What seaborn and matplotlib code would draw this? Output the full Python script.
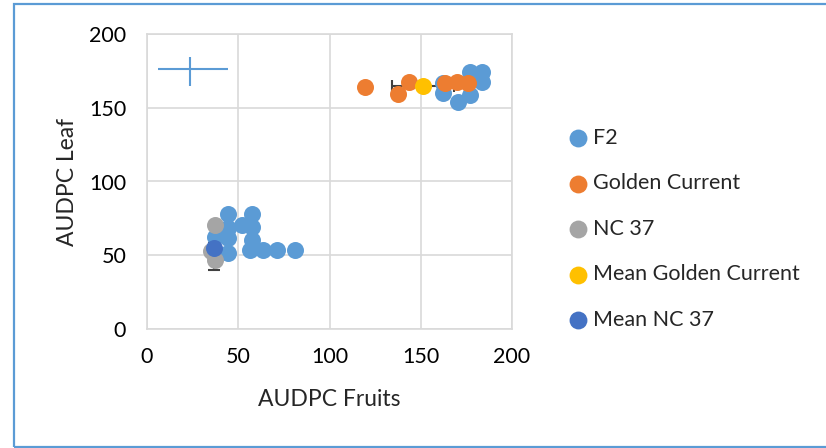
import numpy as np
import pandas as pd
import matplotlib
matplotlib.use("Agg")
import matplotlib.pyplot as plt
from matplotlib.patches import Rectangle
import seaborn as sns

# --- data -------------------------------------------------------------
f2_fruits = [44.6, 57.4, 51.9, 57.4, 44.6, 44.6, 37.3, 57.4, 44.6, 56.4, 63.7, 71.0, 81.1,
             162.4, 162.4, 170.6, 177.0, 177.0, 183.4, 183.4]
f2_leaf = [77.8, 77.8, 70.5, 69.4, 68.3, 62.0, 62.6, 60.3, 51.3, 53.6, 53.6, 53.6, 53.6,
           166.6, 159.8, 154.1, 158.6, 174.4, 174.4, 167.6]

gc_fruits = [119.5, 137.3, 143.7, 163.3, 169.7, 176.0]
gc_leaf = [164.3, 159.1, 167.3, 166.6, 167.7, 167.0]

nc_fruits = [37.3, 35.0, 37.3]
nc_leaf = [70.5, 53.0, 46.8]

mean_gc = (151.4, 165.0)
mean_gc_err = (17.0, 2.0)      # (x, y)
mean_nc = (36.7, 54.7)
mean_nc_err = (3.0, 14.5)

f2_err_center = (23.6, 176.0)
f2_err_x = [[17.6], [20.8]]
f2_err_y = [[11.3], [8.6]]

groups = ["F2", "Golden Current", "NC 37", "Mean Golden Current", "Mean NC 37"]
colors = ["#5B9BD5", "#ED7D31", "#A5A5A5", "#FFC000", "#4472C4"]

x_ticks = [0, 50, 100, 150, 200]
y_ticks = [0, 50, 100, 150, 200]

df = pd.DataFrame({
    "AUDPC Fruits": f2_fruits + gc_fruits + nc_fruits + [mean_gc[0], mean_nc[0]],
    "AUDPC Leaf": f2_leaf + gc_leaf + nc_leaf + [mean_gc[1], mean_nc[1]],
    "group": (["F2"] * len(f2_fruits) + ["Golden Current"] * len(gc_fruits)
              + ["NC 37"] * len(nc_fruits) + ["Mean Golden Current", "Mean NC 37"]),
})

# --- style ------------------------------------------------------------
sns.set_style("white")
plt.rcParams["font.family"] = ["Lato", "DejaVu Sans"]
plt.rcParams["font.size"] = 15.5

fig = plt.figure(figsize=(8.26, 4.48), dpi=100)
ax = fig.add_axes([147 / 826, 1 - 329 / 448, 365 / 826, 295 / 448])

grid_c = "#D9D9D9"
for v in x_ticks:
    ax.axvline(v, color=grid_c, lw=1.2, zorder=0)
for v in y_ticks:
    ax.axhline(v, color=grid_c, lw=1.2, zorder=0)

# error bars
ax.errorbar(*f2_err_center, xerr=f2_err_x, yerr=f2_err_y, fmt="none",
            ecolor=colors[0], elinewidth=1.5, capsize=0, zorder=1)
ax.errorbar(*mean_gc, xerr=mean_gc_err[0], yerr=mean_gc_err[1], fmt="none",
            ecolor="#404040", elinewidth=1.5, capsize=4.5, capthick=1.5, zorder=1)
ax.errorbar(*mean_nc, xerr=mean_nc_err[0], yerr=mean_nc_err[1], fmt="none",
            ecolor="#404040", elinewidth=1.5, capsize=4.5, capthick=1.5, zorder=1)

# points, one layer per series so later series sit on top
for i, g in enumerate(groups):
    sub = df[df["group"] == g]
    sns.scatterplot(data=sub, x="AUDPC Fruits", y="AUDPC Leaf", ax=ax,
                    color=colors[i], s=150, linewidth=0, label=g, zorder=2 + i)

ax.set_xlim(0, 200)
ax.set_ylim(0, 200)
ax.set_xticks(x_ticks)
ax.set_yticks(y_ticks)
ax.tick_params(axis="both", length=0, labelsize=15.5, colors="#000000")
ax.tick_params(axis="x", pad=13)
ax.tick_params(axis="y", pad=15)
for sp in ax.spines.values():
    sp.set_color(grid_c)
    sp.set_linewidth(1.2)
ax.set_xlabel("AUDPC Fruits", fontsize=16.5, labelpad=16)
ax.set_ylabel("AUDPC Leaf", fontsize=16.5, labelpad=8)

handles, labels = ax.get_legend_handles_labels()
leg = ax.legend(handles, labels, loc="upper left", bbox_to_anchor=(565 / 826, 1 - 128 / 448),
                bbox_transform=fig.transFigure, frameon=False, fontsize=15.5,
                labelspacing=1.18, handletextpad=0.08, handlelength=1.22,
                borderpad=0, borderaxespad=0, markerscale=1.05)

# chart border
fig.patches.append(Rectangle((14 / 826, 1 - 447 / 448), 1.0, 442.5 / 448,
                             transform=fig.transFigure, fill=False,
                             edgecolor="#5B9BD5", linewidth=1.6))

fig.savefig("out.png", dpi=100)
